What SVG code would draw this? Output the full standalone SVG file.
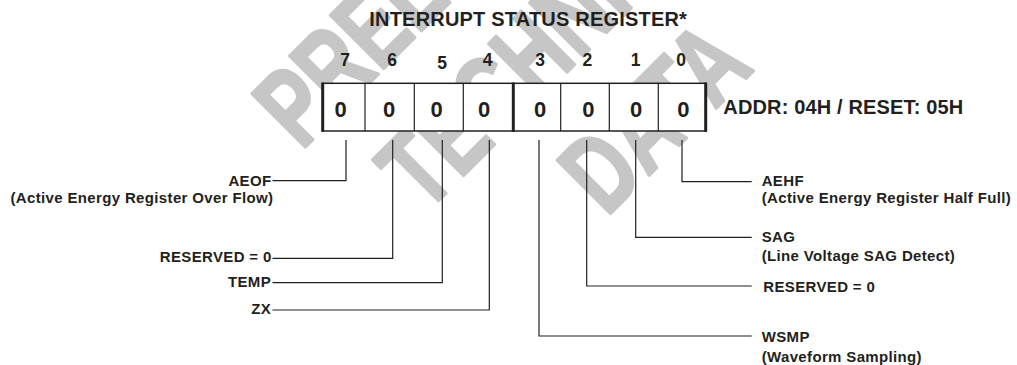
<svg xmlns="http://www.w3.org/2000/svg" width="1017" height="365" viewBox="0 0 1017 365">
<style>
text{font-family:"Liberation Sans",Arial,Helvetica,sans-serif;font-weight:bold;fill:#231f20}
.wm{fill:#c6c6c6;stroke:#c6c6c6;stroke-width:3;stroke-linejoin:round;font-size:110px;text-anchor:middle}
.title{font-size:20px;letter-spacing:0.2px}
.bit{font-size:17.5px;text-anchor:middle}
.val{font-size:22px;text-anchor:middle}
.lbl{font-size:15px;letter-spacing:0.35px}
.lblr{font-size:15px;letter-spacing:0.35px;text-anchor:end}
.addr{font-size:20px;letter-spacing:0.15px}
.conn path{fill:none;stroke:#231f20;stroke-width:1.2}
.thin{stroke:#231f20;stroke-width:1.2}
.thick{stroke:#231f20;stroke-width:3}
</style>
<rect width="1017" height="365" fill="#ffffff"/>
<g id="watermark" transform="rotate(-45) scale(0.727,1)">
<text class="wm" x="522.7" y="320">PRELIMINARY</text>
<text class="wm" x="522.7" y="452">TECHNICAL</text>
<text class="wm" x="522.7" y="583">DATA</text>
</g>
<text id="title" class="title" x="369.3" y="26">INTERRUPT STATUS REGISTER*</text>
<g id="register">
<rect x="322.7" y="83.3" width="383" height="47.7" fill="#ffffff" stroke="#231f20" stroke-width="1.5"/>
<line class="thin" x1="365" y1="83.3" x2="365" y2="131"/>
<line class="thin" x1="414.3" y1="83.3" x2="414.3" y2="131"/>
<line class="thin" x1="463.3" y1="83.3" x2="463.3" y2="131"/>
<line class="thin" x1="560.7" y1="83.3" x2="560.7" y2="131"/>
<line class="thin" x1="609.3" y1="83.3" x2="609.3" y2="131"/>
<line class="thin" x1="658.3" y1="83.3" x2="658.3" y2="131"/>
<line class="thick" x1="322.7" y1="82.5" x2="322.7" y2="131.8"/>
<line class="thick" x1="513.3" y1="82.5" x2="513.3" y2="131.8"/>
<line class="thick" x1="705.7" y1="82.5" x2="705.7" y2="131.8"/>
<text class="bit" x="345" y="65.7">7</text>
<text class="bit" x="392" y="65.7">6</text>
<text class="bit" x="442" y="69">5</text>
<text class="bit" x="487.5" y="65.7">4</text>
<text class="bit" x="540" y="65.7">3</text>
<text class="bit" x="587.3" y="65.7">2</text>
<text class="bit" x="635.7" y="65.7">1</text>
<text class="bit" x="681" y="65.7">0</text>
<text class="val" x="340.7" y="116.5">0</text>
<text class="val" x="389" y="116.5">0</text>
<text class="val" x="436.7" y="116.5">0</text>
<text class="val" x="484" y="116.5">0</text>
<text class="val" x="540" y="116.5">0</text>
<text class="val" x="588.3" y="116.5">0</text>
<text class="val" x="636" y="116.5">0</text>
<text class="val" x="683.3" y="116.5">0</text>
<text class="addr" x="723.3" y="114.3">ADDR: 04H / RESET: 05H</text>
</g>
<g id="connectors" class="conn">
<path d="M346 140V180.7H272.5"/>
<path d="M392.7 140V258.3H272.5"/>
<path d="M442.3 140V282.7H272.5"/>
<path d="M489.3 140V310H272.5"/>
<path d="M539 140V336H751.7"/>
<path d="M586.7 140V286H751.7"/>
<path d="M635.7 140V237.3H751.7"/>
<path d="M682 140V181.7H751.7"/>
</g>
<g id="aeof">
<text class="lblr" x="271.5" y="185.7">AEOF</text>
<text class="lblr" x="273.3" y="203.3">(Active Energy Register Over Flow)</text>
</g>
<g id="reserved6"><text class="lblr" x="271.7" y="262.3">RESERVED = 0</text></g>
<g id="temp"><text class="lblr" x="271" y="287.3">TEMP</text></g>
<g id="zx"><text class="lblr" x="271" y="314.3">ZX</text></g>
<g id="aehf">
<text class="lbl" x="761.7" y="185.7">AEHF</text>
<text class="lbl" x="761.7" y="203.3">(Active Energy Register Half Full)</text>
</g>
<g id="sag">
<text class="lbl" x="761.7" y="241.7">SAG</text>
<text class="lbl" x="761.7" y="261">(Line Voltage SAG Detect)</text>
</g>
<g id="reserved2"><text class="lbl" x="763.3" y="291.7">RESERVED = 0</text></g>
<g id="wsmp">
<text class="lbl" x="761.7" y="341.7">WSMP</text>
<text class="lbl" x="761.7" y="361.7">(Waveform Sampling)</text>
</g>
</svg>
